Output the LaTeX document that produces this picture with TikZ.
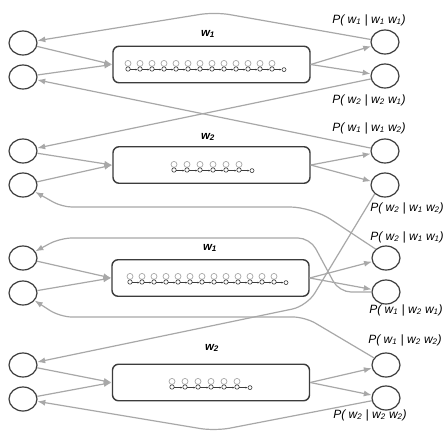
\documentclass[tikz,border=0pt]{standalone}
\usepackage{fontspec}
\setmainfont{Liberation Sans}
\usetikzlibrary{arrows.meta,shapes.geometric}
\definecolor{lg}{RGB}{168,168,168}
\definecolor{dk}{RGB}{60,60,60}
\newcommand{\wsub}[1]{w\textsubscript{#1}}
\newcommand{\hmmchain}[4]{%
  \foreach \i in {1,...,#3} {
    \pgfmathsetmacro{\xx}{#1+(\i-1)*#2}
    \draw[lg,line width=0.7pt] (\xx,#4-2.6) circle[radius=3pt];
    \draw[dk,line width=0.6pt] (\xx,#4+3) circle[radius=2.2pt];
    \draw[dk,line width=0.5pt,-{Latex[length=2.2pt,width=2pt]}] (\xx+2.3,#4+3.6) -- (\xx+#2-2.3,#4+3.6);
  }
  \pgfmathsetmacro{\xe}{#1+#3*#2}
  \draw[dk,line width=0.6pt] (\xe,#4+3.6) circle[radius=2pt];
}
\begin{document}
\begin{tikzpicture}[x=1pt,y=-1pt,
  st/.style={draw=dk,line width=1.2pt,ellipse,minimum width=28pt,minimum height=24pt,inner sep=0pt},
  hbox/.style={draw=dk,line width=1.4pt,rounded corners=6pt,minimum width=197pt,minimum height=36.5pt,inner sep=0pt},
  con/.style={draw=lg,line width=1.2pt,-{Latex[length=8pt,width=6pt]}},
  plabel/.style={font=\fontsize{12}{14}\selectfont\itshape,inner sep=0pt},
  wlabel/.style={font=\fontsize{11.5}{13}\selectfont\bfseries\itshape,inner sep=0pt},
]
\fill[white] (0,0) rectangle (448,432);
\useasboundingbox (0,0) rectangle (448,432);

% group 1
\node[st] (g1l1) at (23,43) {};
\node[st] (g1l2) at (23,77) {};
\node[st] (g1r1) at (385,42) {};
\node[st] (g1r2) at (385,76) {};
\node[hbox] (g1b) at (211.5,64.5) {};
\node[wlabel] (g1w) at (208,34) {\wsub{1}};
% group 2
\node[st] (g2l1) at (23,151) {};
\node[st] (g2l2) at (23,185) {};
\node[st] (g2r1) at (385,151) {};
\node[st] (g2r2) at (385,185) {};
\node[hbox] (g2b) at (211.5,165) {};
\node[wlabel] (g2w) at (208,137) {\wsub{2}};
% group 3
\node[st] (g3l1) at (23,258) {};
\node[st] (g3l2) at (23,293) {};
\node[st] (g3r1) at (386,258) {};
\node[st] (g3r2) at (386,292) {};
\node[hbox] (g3b) at (210.5,278) {};
\node[wlabel] (g3w) at (210,248) {\wsub{1}};
% group 4
\node[st] (g4l1) at (23,365) {};
\node[st] (g4l2) at (23,399) {};
\node[st] (g4r1) at (386,365) {};
\node[st] (g4r2) at (386,398) {};
\node[hbox] (g4b) at (211,382.5) {};
\node[wlabel] (g4w) at (212,348) {\wsub{2}};

% chains inside boxes
\hmmchain{128}{12}{13}{66}
\hmmchain{174}{13}{6}{167}
\hmmchain{130}{12}{13}{279}
\hmmchain{172}{13}{6}{384}

% probability labels
\node[plabel] (p1) at (369,20) {P( \wsub{1} | \wsub{1} \wsub{1})};
\node[plabel] (p2) at (369,100) {P( \wsub{2} | \wsub{2} \wsub{1})};
\node[plabel] (p3) at (369,128) {P( \wsub{1} | \wsub{1} \wsub{2})};
\node[plabel] (p4) at (407,208) {P( \wsub{2} | \wsub{1} \wsub{2})};
\node[plabel] (p5) at (407,237) {P( \wsub{2} | \wsub{1} \wsub{1})};
\node[plabel] (p6) at (406,310) {P( \wsub{1} | \wsub{2} \wsub{1})};
\node[plabel] (p7) at (405,340) {P( \wsub{1} | \wsub{2} \wsub{2})};
\node[plabel] (p8) at (370,415) {P( \wsub{2} | \wsub{2} \wsub{2})};

% inputs and outputs of boxes
\foreach \g in {1,2,3,4} {
  \draw[con] (g\g l1) -- (g\g b.west);
  \draw[con] (g\g l2) -- (g\g b.west);
  \draw[con] (g\g b.east) -- (g\g r1);
  \draw[con] (g\g b.east) -- (g\g r2);
}

% feedback connectors
\draw[con,rounded corners=15pt] (g1r1) -- (215,12) -- (g1l1);
\draw[con] (g1r2) -- (g2l1);
\draw[con] (g2r1) -- (g1l2);
\draw[con,rounded corners=15pt] (g2r2.south west) -- (307,306) -- (g4l1);
\draw[con,rounded corners=22pt] (g3r1.north west) -- (312,207) [rounded corners=10pt] -- (62,207) -- (g2l2);
\draw[con,rounded corners=12pt] (g3r2.west) -- (339,292) -- (310,238) -- (60,238) -- (g3l1);
\draw[con,rounded corners=12pt] (g4r1) -- (305,317) -- (60,317) -- (g3l2);
\draw[con,rounded corners=15pt] (g4r2) -- (215,431) -- (g4l2);
\end{tikzpicture}
\end{document}
